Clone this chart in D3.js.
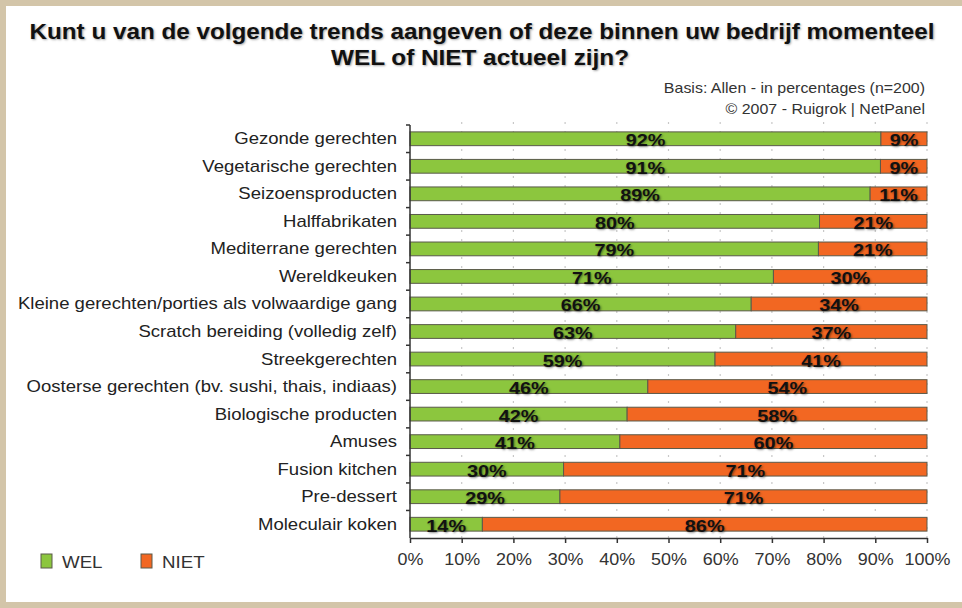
<!DOCTYPE html>
<html>
<head>
<meta charset="utf-8">
<script src="https://cdn.jsdelivr.net/npm/d3@7"></script>
<style>
  body { margin: 0; background: #d3c5a9; }
  svg { display: block; font-family: "Liberation Sans", Arial, sans-serif; }
  .val { text-shadow: 1px 1px 2px rgba(0,0,0,0.45); }
  .title { text-shadow: 1px 1px 2px rgba(0,0,0,0.35); }
</style>
</head>
<body>
<div id="chart"></div>
<script>
var svgWidth = 962;
var svgHeight = 608;

var margin = { top: 125, right: 35, bottom: 70, left: 410 };
var width = 927 - margin.left;
var height = 538 - margin.top;

// data
var categories = [
  "Gezonde gerechten",
  "Vegetarische gerechten",
  "Seizoensproducten",
  "Halffabrikaten",
  "Mediterrane gerechten",
  "Wereldkeuken",
  "Kleine gerechten/porties als volwaardige gang",
  "Scratch bereiding (volledig zelf)",
  "Streekgerechten",
  "Oosterse gerechten (bv. sushi, thais, indiaas)",
  "Biologische producten",
  "Amuses",
  "Fusion kitchen",
  "Pre-dessert",
  "Moleculair koken"
];
var welValues = [92, 91, 89, 80, 79, 71, 66, 63, 59, 46, 42, 41, 30, 29, 14];
var nietValues = [9, 9, 11, 21, 21, 30, 34, 37, 41, 54, 58, 60, 71, 71, 86];
var seriesNames = ["WEL", "NIET"];
var seriesColors = ["#8cc63e", "#f26722"];
var xTicks = [0, 0.1, 0.2, 0.3, 0.4, 0.5, 0.6, 0.7, 0.8, 0.9, 1];

var rows = categories.map(function(c, i) {
  return { cat: c, WEL: welValues[i], NIET: nietValues[i] };
});

// the original picture is a bit wider than normal type, so stretch text
function stretch(sel, factor) {
  sel.each(function() {
    var len = this.getComputedTextLength();
    d3.select(this)
      .attr("textLength", len * factor)
      .attr("lengthAdjust", "spacingAndGlyphs");
  });
}

var svg = d3.select("#chart")
  .append("svg")
  .attr("width", svgWidth)
  .attr("height", svgHeight);

// white panel inside the beige frame
svg.append("rect")
  .attr("x", 6)
  .attr("y", 6)
  .attr("width", svgWidth - 6)
  .attr("height", 602 - 6)
  .attr("fill", "#ffffff");

// title
svg.append("text")
  .attr("class", "title")
  .attr("x", 482).attr("y", 39)
  .attr("text-anchor", "middle")
  .attr("font-weight", "bold")
  .attr("font-size", 21.5)
  .attr("fill", "#111")
  .attr("textLength", 905)
  .attr("lengthAdjust", "spacingAndGlyphs")
  .text("Kunt u van de volgende trends aangeven of deze binnen uw bedrijf momenteel");
svg.append("text")
  .attr("class", "title")
  .attr("x", 480).attr("y", 65)
  .attr("text-anchor", "middle")
  .attr("font-weight", "bold")
  .attr("font-size", 21.5)
  .attr("fill", "#111")
  .attr("textLength", 298)
  .attr("lengthAdjust", "spacingAndGlyphs")
  .text("WEL of NIET actueel zijn?");

var notes = svg.append("g");
notes.append("text")
  .attr("x", 925).attr("y", 93)
  .text("Basis: Allen - in percentages (n=200)");
notes.append("text")
  .attr("x", 925).attr("y", 114)
  .text("\u00a9 2007 - Ruigrok | NetPanel");
notes.selectAll("text")
  .attr("text-anchor", "end")
  .attr("font-size", 14.5)
  .attr("fill", "#333")
  .call(stretch, 1.1);

var chartGroup = svg.append("g")
  .attr("transform", `translate(${margin.left}, ${margin.top})`);

var xScale = d3.scaleLinear().domain([0, 1]).range([0, width]);
var yScale = d3.scaleBand().domain(categories).range([0, height]).paddingInner(0.5).paddingOuter(0.25);

// dotted gridlines
chartGroup.selectAll(".grid")
  .data(xTicks.slice(1))
  .enter()
  .append("line")
  .attr("x1", d => xScale(d))
  .attr("x2", d => xScale(d))
  .attr("y1", -3)
  .attr("y2", height)
  .attr("stroke", "#c8c8c8")
  .attr("stroke-width", 1.2)
  .attr("stroke-dasharray", "2,7");

// stacked 100% bars
var stack = d3.stack().keys(seriesNames).offset(d3.stackOffsetExpand);
var stacked = stack(rows);

var layers = chartGroup.selectAll(".layer")
  .data(stacked)
  .enter()
  .append("g")
  .attr("fill", (d, i) => seriesColors[i]);

layers.selectAll("rect")
  .data(d => d)
  .enter()
  .append("rect")
  .attr("x", d => xScale(d[0]))
  .attr("y", d => yScale(d.data.cat))
  .attr("width", d => xScale(d[1]) - xScale(d[0]))
  .attr("height", yScale.bandwidth())
  .attr("stroke", "#5a5a4a")
  .attr("stroke-width", 1);

// value labels
layers.each(function(layer) {
  d3.select(this).selectAll("text")
    .data(layer)
    .enter()
    .append("text")
    .attr("class", "val")
    .attr("x", d => xScale((d[0] + d[1]) / 2))
    .attr("y", d => yScale(d.data.cat) + yScale.bandwidth() / 2 + 1.5)
    .attr("dominant-baseline", "central")
    .attr("text-anchor", "middle")
    .attr("font-weight", "bold")
    .attr("font-size", 16.5)
    .attr("fill", "#111")
    .text(d => d.data[layer.key] + "%")
    .call(stretch, 1.2);
});

// left axis with ticks on the category boundaries
var leftAxis = chartGroup.append("g");
leftAxis.append("line")
  .attr("x1", 0).attr("x2", 0)
  .attr("y1", 0).attr("y2", height)
  .attr("stroke", "#333")
  .attr("stroke-width", 1.5);
leftAxis.selectAll(".tk")
  .data(d3.range(categories.length))
  .enter()
  .append("line")
  .attr("x1", -4).attr("x2", 0)
  .attr("y1", i => yScale.step() * i)
  .attr("y2", i => yScale.step() * i)
  .attr("stroke", "#333")
  .attr("stroke-width", 1.5);
leftAxis.selectAll(".lbl")
  .data(categories)
  .enter()
  .append("text")
  .attr("x", -13)
  .attr("y", d => yScale(d) + yScale.bandwidth() / 2)
  .attr("dominant-baseline", "central")
  .attr("text-anchor", "end")
  .attr("font-size", 17)
  .attr("fill", "#222")
  .text(d => d)
  .call(stretch, 1.09);

// bottom axis
var bottomAxis = d3.axisBottom(xScale)
  .tickValues(xTicks)
  .tickFormat(d3.format(".0%"))
  .tickSize(5)
  .tickSizeOuter(0)
  .tickPadding(11);

var xAxis = chartGroup.append("g")
  .attr("transform", `translate(0, ${height})`)
  .call(bottomAxis);
xAxis.select(".domain").attr("stroke", "#333").attr("stroke-width", 1.5);
xAxis.selectAll(".tick line").attr("stroke", "#333").attr("stroke-width", 1.5);
xAxis.selectAll(".tick text")
  .attr("font-size", 16)
  .attr("font-family", "\"Liberation Sans\", Arial, sans-serif")
  .attr("fill", "#333")
  .call(stretch, 1.12);

// legend
var legend = svg.append("g").attr("transform", "translate(41, 554)");
var legendX = [0, 100];
seriesNames.forEach(function(name, i) {
  legend.append("rect")
    .attr("x", legendX[i])
    .attr("y", 0)
    .attr("width", 11)
    .attr("height", 14)
    .attr("fill", seriesColors[i])
    .attr("stroke", "#5a5a4a")
    .attr("stroke-width", 1);
  legend.append("text")
    .attr("x", legendX[i] + 21)
    .attr("y", 14)
    .attr("font-size", 17)
    .attr("fill", "#333")
    .text(name)
    .call(stretch, 1.1);
});
</script>
</body>
</html>
